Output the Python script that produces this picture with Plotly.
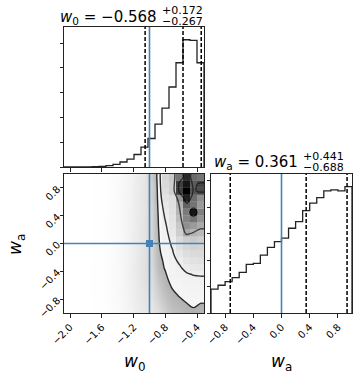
import numpy as np
import plotly.graph_objects as go

# ------------------------------------------------------------------ #
# Values
# ------------------------------------------------------------------ #
w0_range = [-2.076, -0.314]
wa_range = [-1.0, 1.0]
n_bins = 20

# 1D marginals (counts per bin, left to right)
w0_counts = [1, 0, 1, 2, 6, 12, 26, 54, 101, 161, 252, 400, 575, 865, 1190,
             1615, 2105, 2570, 2555, 2105]
wa_counts = [225, 262, 297, 334, 384, 459, 468, 546, 621, 674, 708, 801, 864,
             967, 1039, 1091, 1154, 1163, 1154, 1194]

# 16/50/84-ish quantile markers and the true values
w0_quantiles = [-1.055, -0.578, -0.349]
wa_quantiles = [-0.727, 0.35, 0.93]
w0_truth = -1.0
wa_truth = 0.0

w0_title = ["<i>w</i><sub>0</sub> = \u22120.568", "+0.172", "\u22120.267"]
wa_title = ["<i>w</i><sub>a</sub> = 0.361", "+0.441", "\u22120.688"]

w0_ticks = [-2.0, -1.6, -1.2, -0.8, -0.4]
wa_ticks = [-0.8, -0.4, 0.0, 0.4, 0.8]

# 2D histogram, relative to the peak cell; rows from wa=+0.95 (top) down to -0.95
density_rows = [
    [0, 0, .0002, .0004, .001, .002, .004, .007, .013, .020, .030, .043, .092, .155, .34, .40, .70, .90, .73, .70],
    [0, .0001, .0002, .0005, .001, .002, .004, .008, .013, .021, .031, .044, .080, .155, .32, .38, .85, .95, .77, .83],
    [0, 0, .0001, .0004, .001, .002, .004, .008, .014, .022, .032, .045, .081, .152, .30, .38, .85, 1.0, .785, .82],
    [0, 0, .0002, .0005, .001, .002, .004, .008, .014, .022, .032, .045, .083, .150, .27, .30, .60, .92, .72, .62],
    [0, .0001, .0002, .0005, .0012, .002, .004, .008, .014, .022, .033, .046, .075, .148, .24, .30, .51, .75, .70, .58],
    [0, 0, .0002, .0005, .001, .002, .0045, .008, .014, .023, .033, .046, .074, .145, .22, .29, .48, .68, .95, .66],
    [0, 0, .0002, .0005, .001, .0022, .0045, .0085, .015, .023, .034, .047, .075, .142, .205, .28, .45, .65, .70, .60],
    [0, .0001, .0002, .0005, .0012, .0022, .0045, .0085, .015, .023, .034, .047, .075, .1402, .19, .26, .40, .61, .58, .52],
    [0, 0, .0002, .0006, .0012, .0022, .0045, .0085, .015, .024, .035, .048, .075, .138, .178, .243, .38, .53, .49, .47],
    [0, 0, .0002, .0006, .0012, .0023, .0046, .009, .015, .024, .035, .048, .074, .136, .176, .218, .32, .38, .40, .38],
    [0, .0001, .0003, .0006, .0012, .0023, .0046, .009, .016, .025, .036, .049, .072, .133, .17, .205, .29, .34, .36, .35],
    [0, 0, .0003, .0006, .0013, .0024, .0048, .009, .016, .025, .036, .049, .070, .130, .159, .19, .25, .30, .32, .32],
    [0, 0, .0003, .0006, .0013, .0024, .0048, .0095, .016, .025, .037, .050, .068, .125, .15, .18, .212, .26, .28, .29],
    [0, .0001, .0003, .0007, .0013, .0025, .005, .0095, .017, .026, .037, .050, .066, .120, .145, .165, .19, .222, .24, .25],
    [0, 0, .0003, .0007, .0014, .0025, .005, .0095, .017, .026, .037, .050, .062, .110, .135, .168, .18, .19, .202, .205],
    [0, 0, .0003, .0007, .0014, .0025, .005, .0095, .017, .026, .036, .049, .058, .100, .13, .15, .16, .17, .175, .18],
    [0, .0001, .0003, .0007, .0014, .0025, .005, .0095, .016, .025, .035, .047, .054, .090, .12, .141, .152, .16, .165, .168],
    [0, 0, .0003, .0006, .0013, .0024, .0048, .009, .016, .024, .034, .045, .050, .080, .11, .13, .1425, .15, .155, .155],
    [0, 0, .0002, .0006, .0012, .0022, .0045, .0085, .015, .023, .032, .042, .045, .070, .10, .12, .13, .1405, .148, .141],
    [0, 0, .0002, .0005, .0011, .002, .004, .008, .014, .021, .030, .039, .040, .060, .09, .11, .12, .13, .137, .132],
]
contour_levels = [0.14, 0.20, 0.50, 0.80]

# ------------------------------------------------------------------ #
# Derived grids
# ------------------------------------------------------------------ #
W = 358
H = 378
FONT = "DejaVu Sans"
BLUE = "#4682b4"

w0_edges = np.linspace(w0_range[0], w0_range[1], n_bins + 1)
wa_edges = np.linspace(wa_range[0], wa_range[1], n_bins + 1)
w0_cent = 0.5 * (w0_edges[1:] + w0_edges[:-1])
wa_cent = 0.5 * (wa_edges[1:] + wa_edges[:-1])
dens = np.array(density_rows[::-1])  # rows bottom -> top

# pad with edge values so contours reach the frame (as corner does)
xp = np.concatenate([[w0_range[0]], w0_cent, [w0_range[1]]])
yp = np.concatenate([[wa_range[0]], wa_cent, [wa_range[1]]])
dp = np.pad(dens, 1, mode="edge")

# one rectangle per histogram cell; grey that fades to clear, like corner's pcolor
cell_x = np.tile(w0_cent, n_bins)
cell_base = np.repeat(wa_edges[:-1], n_bins)
cell_d = dens.ravel() ** 0.85  # slightly stronger shading
cell_colors = ["rgba({0},{0},{0},{1:.3f})".format(int(round(255 * (1 - d))), d) for d in cell_d]


def step_xy(edges, counts):
    xs = [edges[0]] + list(edges) + [edges[-1]]
    ys = [0] + list(counts) + [counts[-1], 0]
    return xs, ys


def px(x):
    return x / W


def py(y):
    return 1 - y / H


fig = go.Figure()

# top: w0 marginal
sx, sy = step_xy(w0_edges, w0_counts)
fig.add_trace(go.Scatter(x=sx, y=sy, mode="lines", line=dict(color="#222", width=1.3, shape="hv"),
                         xaxis="x", yaxis="y", hoverinfo="skip", showlegend=False))

# middle: point cloud -> white under lowest contour -> contour lines -> density cells
fig.add_trace(go.Heatmap(x=w0_cent, y=wa_cent, z=dens, zmin=0, zmax=0.15, zsmooth="best",
                         colorscale=[[0, "rgba(0,0,0,0)"], [1, "rgba(0,0,0,0.36)"]],
                         showscale=False, hoverinfo="skip", xaxis="x2", yaxis="y2"))
fig.add_trace(go.Contour(x=xp, y=yp, z=dp, showscale=False, hoverinfo="skip",
                         contours=dict(type="constraint", operation="<", value=contour_levels[0]),
                         fillcolor="white", line=dict(width=0), xaxis="x2", yaxis="y2"))
for lev in contour_levels:
    fig.add_trace(go.Contour(x=xp, y=yp, z=dp, showscale=False, hoverinfo="skip",
                             contours=dict(type="constraint", operation="=", value=lev),
                             fillcolor="rgba(0,0,0,0)",
                             line=dict(color="black", width=1.4), xaxis="x2", yaxis="y2"))
fig.add_trace(go.Bar(x=cell_x, y=[wa_edges[1] - wa_edges[0]] * len(cell_x), base=cell_base,
                     width=w0_edges[1] - w0_edges[0],
                     marker=dict(color=cell_colors, line=dict(width=0)),
                     xaxis="x2", yaxis="y2", hoverinfo="skip", showlegend=False))
fig.add_trace(go.Scatter(x=[w0_truth], y=[wa_truth], mode="markers",
                         marker=dict(symbol="square", size=7, color=BLUE),
                         xaxis="x2", yaxis="y2", hoverinfo="skip", showlegend=False))

# right: wa marginal
sx, sy = step_xy(wa_edges, wa_counts)
fig.add_trace(go.Scatter(x=sx, y=sy, mode="lines", line=dict(color="#222", width=1.3, shape="hv"),
                         xaxis="x3", yaxis="y3", hoverinfo="skip", showlegend=False))

shapes = []
for q in w0_quantiles:
    shapes.append(dict(type="line", xref="x", yref="y domain", x0=q, x1=q, y0=0, y1=1,
                       line=dict(color="black", width=1.5, dash="4px,2px")))
for q in wa_quantiles:
    shapes.append(dict(type="line", xref="x3", yref="y3 domain", x0=q, x1=q, y0=0, y1=1,
                       line=dict(color="black", width=1.5, dash="4px,2px")))
for xr, yr in [("x", "y domain"), ("x2", "y2 domain")]:
    shapes.append(dict(type="line", xref=xr, yref=yr, x0=w0_truth, x1=w0_truth, y0=0, y1=1,
                       line=dict(color=BLUE, width=1.6)))
shapes.append(dict(type="line", xref="x2 domain", yref="y2", x0=0, x1=1, y0=wa_truth, y1=wa_truth,
                   line=dict(color=BLUE, width=1.6)))
shapes.append(dict(type="line", xref="x3", yref="y3 domain", x0=wa_truth, x1=wa_truth, y0=0, y1=1,
                   line=dict(color=BLUE, width=1.6)))

ax = dict(showline=True, mirror=True, linecolor="#222", linewidth=1, ticks="outside", ticklen=3.5,
          tickwidth=1, tickcolor="#222", showgrid=False, zeroline=False, automargin=False,
          tickfont=dict(family=FONT, size=10, color="black"))

dom_x1 = [px(64), px(204)]
dom_x3 = [px(211), px(352)]
dom_top = [py(167), py(27)]
dom_bot = [py(313), py(174)]

fig.update_layout(
    width=W, height=H, margin=dict(l=0, r=0, t=0, b=0, autoexpand=False),
    paper_bgcolor="white", plot_bgcolor="white", showlegend=False, barmode="overlay",
    xaxis=dict(ax, domain=dom_x1, anchor="y", range=w0_range, tickvals=w0_ticks, showticklabels=False),
    yaxis=dict(ax, domain=dom_top, anchor="x", range=[0, 1.1 * max(w0_counts)], dtick=500,
               showticklabels=False),
    xaxis2=dict(ax, domain=dom_x1, anchor="y2", range=w0_range, tickvals=w0_ticks, tickangle=-45,
                tickformat=".1f"),
    yaxis2=dict(ax, domain=dom_bot, anchor="x2", range=wa_range, tickvals=wa_ticks, tickangle=-45,
                tickformat=".1f"),
    xaxis3=dict(ax, domain=dom_x3, anchor="y3", range=wa_range, tickvals=wa_ticks, tickangle=-45,
                tickformat=".1f"),
    yaxis3=dict(ax, domain=dom_bot, anchor="x3", range=[0, 1.1 * max(wa_counts)], dtick=250,
                showticklabels=False),
    shapes=shapes,
)

ann = []
big = dict(family=FONT, size=15, color="black")
small = dict(family=FONT, size=11, color="black")
for title, xr, ym in [(w0_title, 159, 17), (wa_title, 300, 162)]:
    ann.append(dict(text=title[0], x=px(xr), y=py(ym), xanchor="right", yanchor="middle", font=big))
    ann.append(dict(text=title[1], x=px(xr + 1), y=py(ym - 6), xanchor="left", yanchor="middle", font=small))
    ann.append(dict(text=title[2], x=px(xr + 1), y=py(ym + 5), xanchor="left", yanchor="middle", font=small))
label = dict(family=FONT, size=17, color="black")
ann.append(dict(text="<i>w</i><sub>0</sub>", x=px(134), y=py(362), xanchor="center", yanchor="middle", font=label))
ann.append(dict(text="<i>w</i><sub>a</sub>", x=px(281), y=py(362), xanchor="center", yanchor="middle", font=label))
ann.append(dict(text="<i>w</i><sub>a</sub>", x=px(16), y=py(245), xanchor="center", yanchor="middle",
                textangle=-90, font=label))
for a in ann:
    a.update(xref="paper", yref="paper", showarrow=False)
fig.update_layout(annotations=ann)

fig.write_html("out.html", config={"displayModeBar": False},
               post_script="document.body.style.margin='0';")
